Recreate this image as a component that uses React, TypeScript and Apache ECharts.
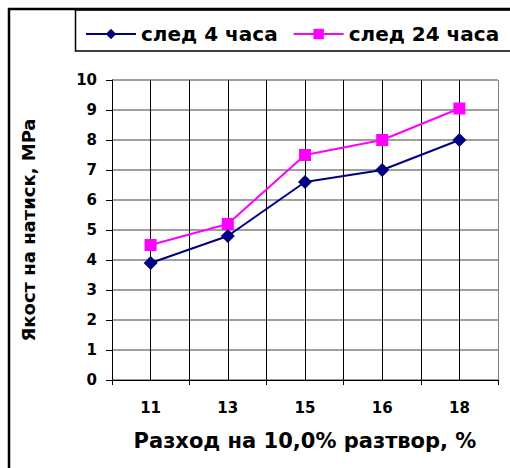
import React, { useEffect, useRef } from "react";
import * as echarts from "echarts";

const categories = ["11", "13", "15", "16", "18"];
const series4h = [3.9, 4.8, 6.6, 7.0, 8.0];
const series24h = [4.5, 5.2, 7.5, 8.0, 9.05];
const seriesNames = ["след 4 часа", "след 24 часа"];
const xTitle = "Разход на 10,0% разтвор, %";
const yTitle = "Якост на натиск, MPa";

const FONT = "'DejaVu Sans', sans-serif";

export default function App() {
  const ref = useRef<HTMLDivElement>(null);
  useEffect(() => {
    if (!ref.current) return;
    const chart = echarts.init(ref.current, undefined, { renderer: "svg" });
    const toPoints = (vals: number[]) => vals.map((v, i) => [2 * i + 1, v]);
    const splitColors = Array.from({ length: 11 }, (_, i) => (i === 10 ? "#808080" : "#000000"));
    chart.setOption({
      animation: false,
      backgroundColor: "#ffffff",
      textStyle: { fontFamily: FONT },
      grid: { left: 112, top: 80, right: 12, bottom: 88, containLabel: false },
      legend: {
        left: 80,
        top: 19,
        itemWidth: 50,
        itemHeight: 13,
        itemGap: 15,
        data: seriesNames,
        textStyle: { fontFamily: FONT, fontWeight: "bold", fontSize: 20, color: "#000" },
      },
      graphic: [
        {
          type: "rect",
          shape: { x: 9, y: 9, width: 520, height: 480 },
          style: { fill: "none", stroke: "#000", lineWidth: 2.5 },
          silent: true,
          z: -1,
        },
        {
          type: "rect",
          shape: { x: 75.5, y: 10, width: 460, height: 41 },
          style: { fill: "none", stroke: "#000", lineWidth: 1.5 },
          silent: true,
          z: -1,
        },
      ],
      xAxis: [
        {
          type: "category",
          data: categories,
          boundaryGap: true,
          position: "bottom",
          axisLine: { show: true, lineStyle: { color: "#000", width: 1 } },
          axisTick: { show: true, length: 5, inside: false, lineStyle: { color: "#000" } },
          axisLabel: { fontFamily: FONT, fontWeight: "bold", fontSize: 15, color: "#000", margin: 20 },
          splitLine: { show: false },
          name: xTitle,
          nameLocation: "middle",
          nameGap: 50,
          nameTextStyle: { fontFamily: FONT, fontWeight: "bold", fontSize: 21, color: "#000" },
        },
        {
          type: "value",
          min: 0,
          max: 10,
          interval: 1,
          position: "top",
          axisLine: { show: false },
          axisTick: { show: false },
          axisLabel: { show: false },
          splitLine: { show: true, lineStyle: { color: splitColors, width: 1 } },
        },
      ],
      yAxis: {
        type: "value",
        min: 0,
        max: 10,
        interval: 1,
        axisLine: { show: true, lineStyle: { color: "#000", width: 1 } },
        axisTick: { show: true, length: 6, lineStyle: { color: "#000" } },
        axisLabel: { fontFamily: FONT, fontWeight: "bold", fontSize: 15, color: "#000", margin: 15 },
        splitLine: { show: true, lineStyle: { color: "#808080", width: 1.5 } },
        name: yTitle,
        nameLocation: "middle",
        nameRotate: 90,
        nameGap: 75,
        nameTextStyle: { fontFamily: FONT, fontWeight: "bold", fontSize: 18, color: "#000" },
      },
      series: [
        {
          name: seriesNames[0],
          type: "line",
          xAxisIndex: 1,
          data: toPoints(series4h),
          symbol: "diamond",
          symbolSize: 14,
          lineStyle: { color: "#000080", width: 2 },
          itemStyle: { color: "#000080" },
          z: 3,
        },
        {
          name: seriesNames[1],
          type: "line",
          xAxisIndex: 1,
          data: toPoints(series24h),
          symbol: "rect",
          symbolSize: 12,
          lineStyle: { color: "#FF00FF", width: 2 },
          itemStyle: { color: "#FF00FF" },
          z: 2,
        },
      ],
    });
    return () => chart.dispose();
  }, []);
  return (
    <div
      ref={ref}
      style={{ position: "absolute", left: 0, top: 0, width: 510, height: 468, overflow: "hidden" }}
    />
  );
}
